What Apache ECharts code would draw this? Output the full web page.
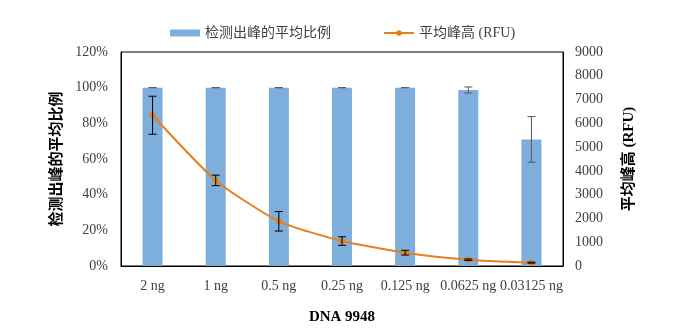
<!DOCTYPE html>
<html><head><meta charset="utf-8">
<script src="https://cdn.jsdelivr.net/npm/echarts@6/dist/echarts.min.js"></script>
<style>html,body{margin:0;padding:0;background:#fff}#c{width:685px;height:336px}</style>
</head><body><div id="c"></div>
<script>
const categories = ['2 ng','1 ng','0.5 ng','0.25 ng','0.125 ng','0.0625 ng','0.03125 ng'];
const ratioValues = [100, 100, 100, 100, 100, 98.7, 71];
const ratioErrors = [0, 0, 0, 0, 0, 1.7, 12.8];
const heightValues = [6340, 3600, 1880, 1050, 560, 265, 140];
const heightErrors = [800, 220, 410, 180, 100, 30, 20];
const leftTicks = {min: 0, max: 120, interval: 20};
const rightTicks = {min: 0, max: 9000, interval: 1000};

const serif = "'Liberation Serif','Times New Roman','Noto Sans CJK SC'";
function errData(vals, errs){ return vals.map((v,i)=>[i, v+errs[i], v-errs[i]]); }
function errRender(color, half){
  return function(params, api){
    const x = api.value(0);
    const a = api.coord([x, api.value(1)]);
    const b = api.coord([x, api.value(2)]);
    const st = {stroke: color, lineWidth: 1};
    return {type:'group', children:[
      {type:'line', shape:{x1:a[0],y1:a[1],x2:b[0],y2:b[1]}, style:st},
      {type:'line', shape:{x1:a[0]-half,y1:a[1],x2:a[0]+half,y2:a[1]}, style:st},
      {type:'line', shape:{x1:b[0]-half,y1:b[1],x2:b[0]+half,y2:b[1]}, style:st}
    ]};
  };
}
const chart = echarts.init(document.getElementById('c'));
chart.setOption({
  animation: false,
  textStyle: {fontFamily: serif},
  legend: {
    top: 21, left: 165, itemWidth: 30, itemHeight: 7, itemGap: 52,
    textStyle: {fontFamily: serif, fontSize: 14, color: '#404040'},
    data: [{name:'检测出峰的平均比例', icon:'rect'}, {name:'平均峰高 (RFU)'}]
  },
  grid: {left: 121, right: 122, top: 52, bottom: 70, show: true, borderColor: '#000', borderWidth: 1},
  xAxis: {
    type: 'category', data: categories,
    name: 'DNA 9948', nameLocation: 'middle', nameGap: 44,
    nameTextStyle: {fontFamily: serif, fontSize: 15, fontWeight: 'bold', color: '#000'},
    axisLine: {lineStyle: {color: '#000'}}, axisTick: {show: false},
    axisLabel: {interval: 0, fontFamily: serif, fontSize: 14, color: '#404040', margin: 13}
  },
  yAxis: [{
    type: 'value', min: leftTicks.min, max: leftTicks.max, interval: leftTicks.interval,
    name: '检测出峰的平均比例', nameLocation: 'middle', nameGap: 56,
    nameTextStyle: {fontFamily: serif, fontSize: 15, fontWeight: 'bold', color: '#000'},
    axisLine: {show: true, lineStyle: {color: '#000'}}, axisTick: {show: false}, splitLine: {show: false},
    axisLabel: {formatter: '{value}%', fontFamily: serif, fontSize: 14, color: '#404040', margin: 13}
  },{
    type: 'value', min: rightTicks.min, max: rightTicks.max, interval: rightTicks.interval,
    name: '平均峰高 (RFU)', nameLocation: 'middle', nameGap: 59,
    nameTextStyle: {fontFamily: serif, fontSize: 15, fontWeight: 'bold', color: '#000'},
    axisLine: {show: true, lineStyle: {color: '#000'}}, axisTick: {show: false}, splitLine: {show: false},
    axisLabel: {formatter: function(v){ return String(v); }, fontFamily: serif, fontSize: 14, color: '#404040', margin: 12}
  }],
  series: [{
    name: '检测出峰的平均比例', type: 'bar', yAxisIndex: 0, data: ratioValues,
    barWidth: 20, itemStyle: {color: '#7DAEDC'}
  },{
    type: 'custom', yAxisIndex: 0, data: errData(ratioValues, ratioErrors),
    renderItem: errRender('#595959', 4), z: 3, encode: {x: 0, y: [1, 2]}
  },{
    name: '平均峰高 (RFU)', type: 'line', yAxisIndex: 1, data: heightValues,
    smooth: 0.2, symbol: 'circle', symbolSize: 6,
    lineStyle: {color: '#E57F1E', width: 2}, itemStyle: {color: '#E57F1E'}, z: 4
  },{
    type: 'custom', yAxisIndex: 1, data: errData(heightValues, heightErrors),
    renderItem: errRender('#000', 4), z: 5, encode: {x: 0, y: [1, 2]}
  }]
});
</script></body></html>
